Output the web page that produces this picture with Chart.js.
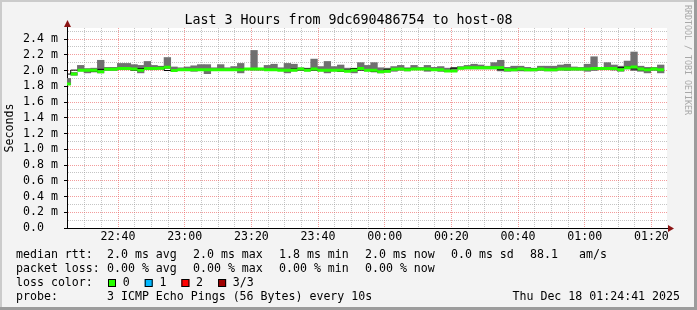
<!DOCTYPE html>
<html><head><meta charset="utf-8">
<script src="https://cdn.jsdelivr.net/npm/chart.js@4.4.1/dist/chart.umd.min.js"></script>
<style>html,body{margin:0;padding:0;background:#f3f3f3;}canvas{display:block;}</style>
</head><body>
<canvas id="c" width="697" height="310"></canvas>
<script>
const chartTitle = 'Last 3 Hours from 9dc690486754 to host-08';
const yAxisTitle = 'Seconds';
const watermark = 'RRDTOOL / TOBI OETIKER';
// time in minutes relative to 00:00 (Dec 18)
const axisStartMin = -95.3167;
const axisEndMin = 84.6833;
const firstBinStart = -96.2;
const binLength = 2;

const medianRtt = [
  1.83, 1.955, 2.005, 2.005, 2.005, 1.985, 2.015, 2.015, 2.025, 2.025,
  2.02, 2.005, 2.025, 2.025, 2.03, 2.04, 2.0, 2.01, 2.01, 2.01,
  2.01, 2.01, 2.01, 2.01, 2.01, 2.01, 2.01, 2.02, 2.02, 2.02,
  2.01, 2.01, 2.005, 2.005, 2.005, 2.02, 2.005, 2.02, 2.005, 2.005,
  2.005, 2.005, 1.99, 2.005, 2.025, 2.005, 2.005, 1.985, 1.99, 2.015,
  2.02, 2.01, 2.02, 2.02, 2.02, 2.01, 2.01, 1.995, 1.995, 2.03,
  2.035, 2.035, 2.035, 2.035, 2.035, 2.035, 2.01, 2.01, 2.02, 2.01,
  2.01, 2.02, 2.01, 2.01, 2.02, 2.02, 2.02, 2.02, 2.02, 2.025,
  2.025, 2.025, 2.025, 2.01, 2.035, 2.045, 2.02, 2.01, 2.02, 2.01
];
const maxRtt = [
  1.90, 1.975, 2.065, 2.025, 2.03, 2.13, 2.04, 2.04, 2.09, 2.09,
  2.075, 2.065, 2.115, 2.065, 2.055, 2.165, 2.045, 2.035, 2.045, 2.06,
  2.075, 2.075, 2.035, 2.075, 2.035, 2.05, 2.09, 2.025, 2.255, 2.03,
  2.065, 2.08, 2.035, 2.09, 2.08, 2.035, 2.03, 2.145, 2.05, 2.115,
  2.05, 2.07, 2.03, 2.03, 2.10, 2.065, 2.10, 2.035, 2.03, 2.05,
  2.065, 2.035, 2.065, 2.04, 2.065, 2.04, 2.05, 2.03, 2.04, 2.05,
  2.065, 2.08, 2.07, 2.055, 2.10, 2.13, 2.04, 2.055, 2.055, 2.04,
  2.03, 2.055, 2.055, 2.055, 2.07, 2.08, 2.045, 2.04, 2.08, 2.175,
  2.04, 2.10, 2.07, 2.055, 2.12, 2.235, 2.055, 2.04, 2.04, 2.07
];
const minRtt = [
  1.82, 1.94, 1.995, 1.97, 1.995, 1.97, 2.0, 2.0, 2.01, 2.01,
  2.005, 1.97, 2.01, 2.01, 2.015, 2.025, 1.99, 2.0, 2.0, 1.99,
  2.0, 1.96, 2.0, 2.0, 2.0, 2.0, 1.97, 2.01, 2.005, 2.01,
  2.0, 2.0, 2.0, 1.97, 1.995, 2.01, 1.995, 2.005, 1.995, 1.97,
  1.995, 1.995, 1.985, 1.97, 2.01, 1.995, 1.99, 1.97, 1.98, 1.99,
  2.01, 1.995, 2.01, 2.01, 1.99, 2.0, 2.0, 1.985, 1.99, 2.02,
  2.02, 2.02, 2.02, 2.02, 2.02, 1.995, 1.99, 1.995, 1.995, 1.995,
  1.995, 2.005, 1.995, 1.995, 2.005, 2.0, 2.005, 2.005, 1.99, 2.0,
  2.01, 2.01, 2.01, 1.99, 2.02, 2.0, 1.99, 1.97, 2.005, 1.97
];

const yTicks = [0.0,0.1,0.2,0.3,0.4,0.5,0.6,0.7,0.8,0.9,1.0,1.1,1.2,1.3,1.4,1.5,1.6,1.7,1.8,1.9,2.0,2.1,2.2,2.3,2.4,2.5];
const xTicks = [-90,-85,-80,-75,-70,-65,-60,-55,-50,-45,-40,-35,-30,-25,-20,-15,-10,-5,0,5,10,15,20,25,30,35,40,45,50,55,60,65,70,75,80];

const rttStats = [['median rtt:',16],['2.0 ms avg',107],['2.0 ms max',193],['1.8 ms min',279],['2.0 ms now',365],['0.0 ms sd',451],['88.1',530],['am/s',579]];
const lossStats = [['packet loss:',16],['0.00 % avg',107],['0.00 % max',193],['0.00 % min',279],['0.00 % now',365]];
const lossLabels = ['0','1','2','3/3'];
const lossColors = ['#26ff00','#00b8ff','#ff0000','#a00000'];
const probeText = '3 ICMP Echo Pings (56 Bytes) every 10s';
const dateText = 'Thu Dec 18 01:24:41 2025';

const MONO = '"DejaVu Sans Mono", monospace';

const binStarts = medianRtt.map((_, k) => firstBinStart + k * binLength);
const lastEnd = firstBinStart + medianRtt.length * binLength;
function stepSeries(vals) {
  const pts = vals.map((v, k) => ({x: binStarts[k], y: v}));
  pts.push({x: lastEnd, y: vals[vals.length - 1]});
  return pts;
}
const greenSegs = [];
medianRtt.forEach((v, k) => {
  const s = binStarts[k];
  greenSegs.push({x: s, y: v}, {x: s + binLength, y: v}, {x: s + binLength, y: null});
});
const smoke = minRtt.map((v, k) => ({x: binStarts[k] + binLength / 2, y: [v, maxRtt[k]]}));

function fmtTime(v) {
  const m = ((Math.round(v) % 1440) + 1440) % 1440;
  const h = Math.floor(m / 60), mm = m % 60;
  return String(h).padStart(2, '0') + ':' + String(mm).padStart(2, '0');
}
const isMajorY = v => Math.round(v * 10) % 2 === 0;
const isMajorX = v => Math.round(v) % 20 === 0;

const framePlugin = {
  id: 'rrdFrame',
  beforeDraw(chart) {
    const {ctx, chartArea: a, width: W, height: H} = chart;
    ctx.save();
    ctx.fillStyle = '#f3f3f3'; ctx.fillRect(0, 0, W, H);
    ctx.fillStyle = '#cbcbcb'; ctx.fillRect(0, 0, W, 2); ctx.fillRect(0, 0, 2, H);
    ctx.fillStyle = '#9c9c9c'; ctx.fillRect(0, H - 3, W, 3); ctx.fillRect(W - 3, 0, 3, H);
    ctx.fillStyle = '#ffffff'; ctx.fillRect(a.left, a.top, a.right - a.left, a.bottom - a.top);
    ctx.restore();
  },
  afterDraw(chart) {
    const {ctx, chartArea: a, width: W} = chart;
    ctx.save();
    ctx.strokeStyle = '#000'; ctx.lineWidth = 1;
    ctx.beginPath();
    ctx.moveTo(a.left + 0.5, a.top); ctx.lineTo(a.left + 0.5, a.top - 4);
    ctx.moveTo(a.right, a.bottom + 0.5); ctx.lineTo(a.right + 3, a.bottom + 0.5);
    ctx.stroke();
    ctx.fillStyle = '#8b1414';
    ctx.beginPath();
    ctx.moveTo(a.left + 0.5, a.top - 8); ctx.lineTo(a.left - 3, a.top - 1); ctx.lineTo(a.left + 4, a.top - 1); ctx.closePath(); ctx.fill();
    ctx.beginPath();
    ctx.moveTo(a.right + 7, a.bottom + 0.5); ctx.lineTo(a.right + 1, a.bottom - 3); ctx.lineTo(a.right + 1, a.bottom + 4); ctx.closePath(); ctx.fill();

    ctx.fillStyle = '#000';
    ctx.textBaseline = 'alphabetic';
    ctx.font = '13.3px ' + MONO;
    ctx.textAlign = 'center';
    ctx.fillText(chartTitle, W / 2, 24);

    ctx.font = '11.6px ' + MONO;
    ctx.textAlign = 'left';
    rttStats.forEach(([t, x]) => ctx.fillText(t, x, 258));
    lossStats.forEach(([t, x]) => ctx.fillText(t, x, 272));
    ctx.fillText('loss color:', 16, 286);
    lossLabels.forEach((t, i) => {
      const bx = 108 + i * 36.7;
      ctx.fillStyle = lossColors[i];
      ctx.fillRect(bx, 279, 8, 8);
      ctx.strokeStyle = '#000';
      ctx.strokeRect(bx + 0.5, 279.5, 7, 7);
      ctx.fillStyle = '#000';
      ctx.fillText(t, bx + 14.7, 286);
    });
    ctx.fillText('probe:', 16, 300);
    ctx.fillText(probeText, 107, 300);
    ctx.textAlign = 'right';
    ctx.fillText(dateText, 680, 300);

    ctx.translate(687.5, 5);
    ctx.rotate(Math.PI / 2);
    ctx.font = '8.3px ' + MONO;
    ctx.fillStyle = '#a8a8a8';
    ctx.textAlign = 'left';
    ctx.textBaseline = 'middle';
    ctx.fillText(watermark, 0, 0);
    ctx.restore();
  }
};

const tickFont = {family: MONO, size: 11.6};

new Chart(document.getElementById('c'), {
  type: 'line',
  data: {
    datasets: [
      {data: greenSegs, borderColor: lossColors[0], borderWidth: 3, pointRadius: 0, spanGaps: false, fill: false, borderCapStyle: 'butt'},
      {data: stepSeries(medianRtt), stepped: 'after', borderColor: '#000000', borderWidth: 1, pointRadius: 0, fill: false},
      {type: 'bar', data: smoke, backgroundColor: '#707070', borderWidth: 0, barPercentage: 1, categoryPercentage: 1, grouped: false}
    ]
  },
  options: {
    responsive: false,
    devicePixelRatio: 1,
    animation: false,
    events: [],
    layout: {padding: {left: 0, right: 30, top: 28, bottom: 62}},
    plugins: {legend: {display: false}, tooltip: {enabled: false}, title: {display: false}},
    scales: {
      x: {
        type: 'linear',
        min: axisStartMin,
        max: axisEndMin,
        offset: false,
        afterBuildTicks: s => { s.ticks = xTicks.map(v => ({value: v})); },
        afterFit: s => { s.height = 20; },
        ticks: {autoSkip: false, maxRotation: 0, minRotation: 0, padding: 2, color: '#000', font: tickFont,
          callback: v => isMajorX(v) ? fmtTime(v) : ''},
        grid: {drawTicks: false, lineWidth: 1, offset: false,
          color: c => isMajorX(c.tick.value) ? 'rgba(235,90,90,0.6)' : 'rgba(150,150,150,0.55)'},
        border: {display: true, color: '#000', width: 1, dash: [1, 1]}
      },
      y: {
        min: 0,
        max: 2.54,
        afterBuildTicks: s => { s.ticks = yTicks.map(v => ({value: v})); },
        afterFit: s => { s.width = 67; },
        ticks: {autoSkip: false, padding: 6, color: '#000', font: tickFont,
          callback: v => isMajorY(v) ? (Math.abs(v) < 1e-9 ? '0.0  ' : v.toFixed(1) + ' m') : ''},
        grid: {drawTicks: true, tickLength: 3, lineWidth: 1,
          color: c => isMajorY(c.tick.value) ? 'rgba(235,90,90,0.6)' : 'rgba(150,150,150,0.55)',
          tickColor: c => isMajorY(c.tick.value) ? '#000' : 'rgba(0,0,0,0)'},
        border: {display: true, color: '#000', width: 1, dash: [1, 1]},
        title: {display: true, text: yAxisTitle, color: '#000', font: tickFont, padding: {top: 3, bottom: 0}}
      }
    }
  },
  plugins: [framePlugin]
});
</script>
</body></html>
